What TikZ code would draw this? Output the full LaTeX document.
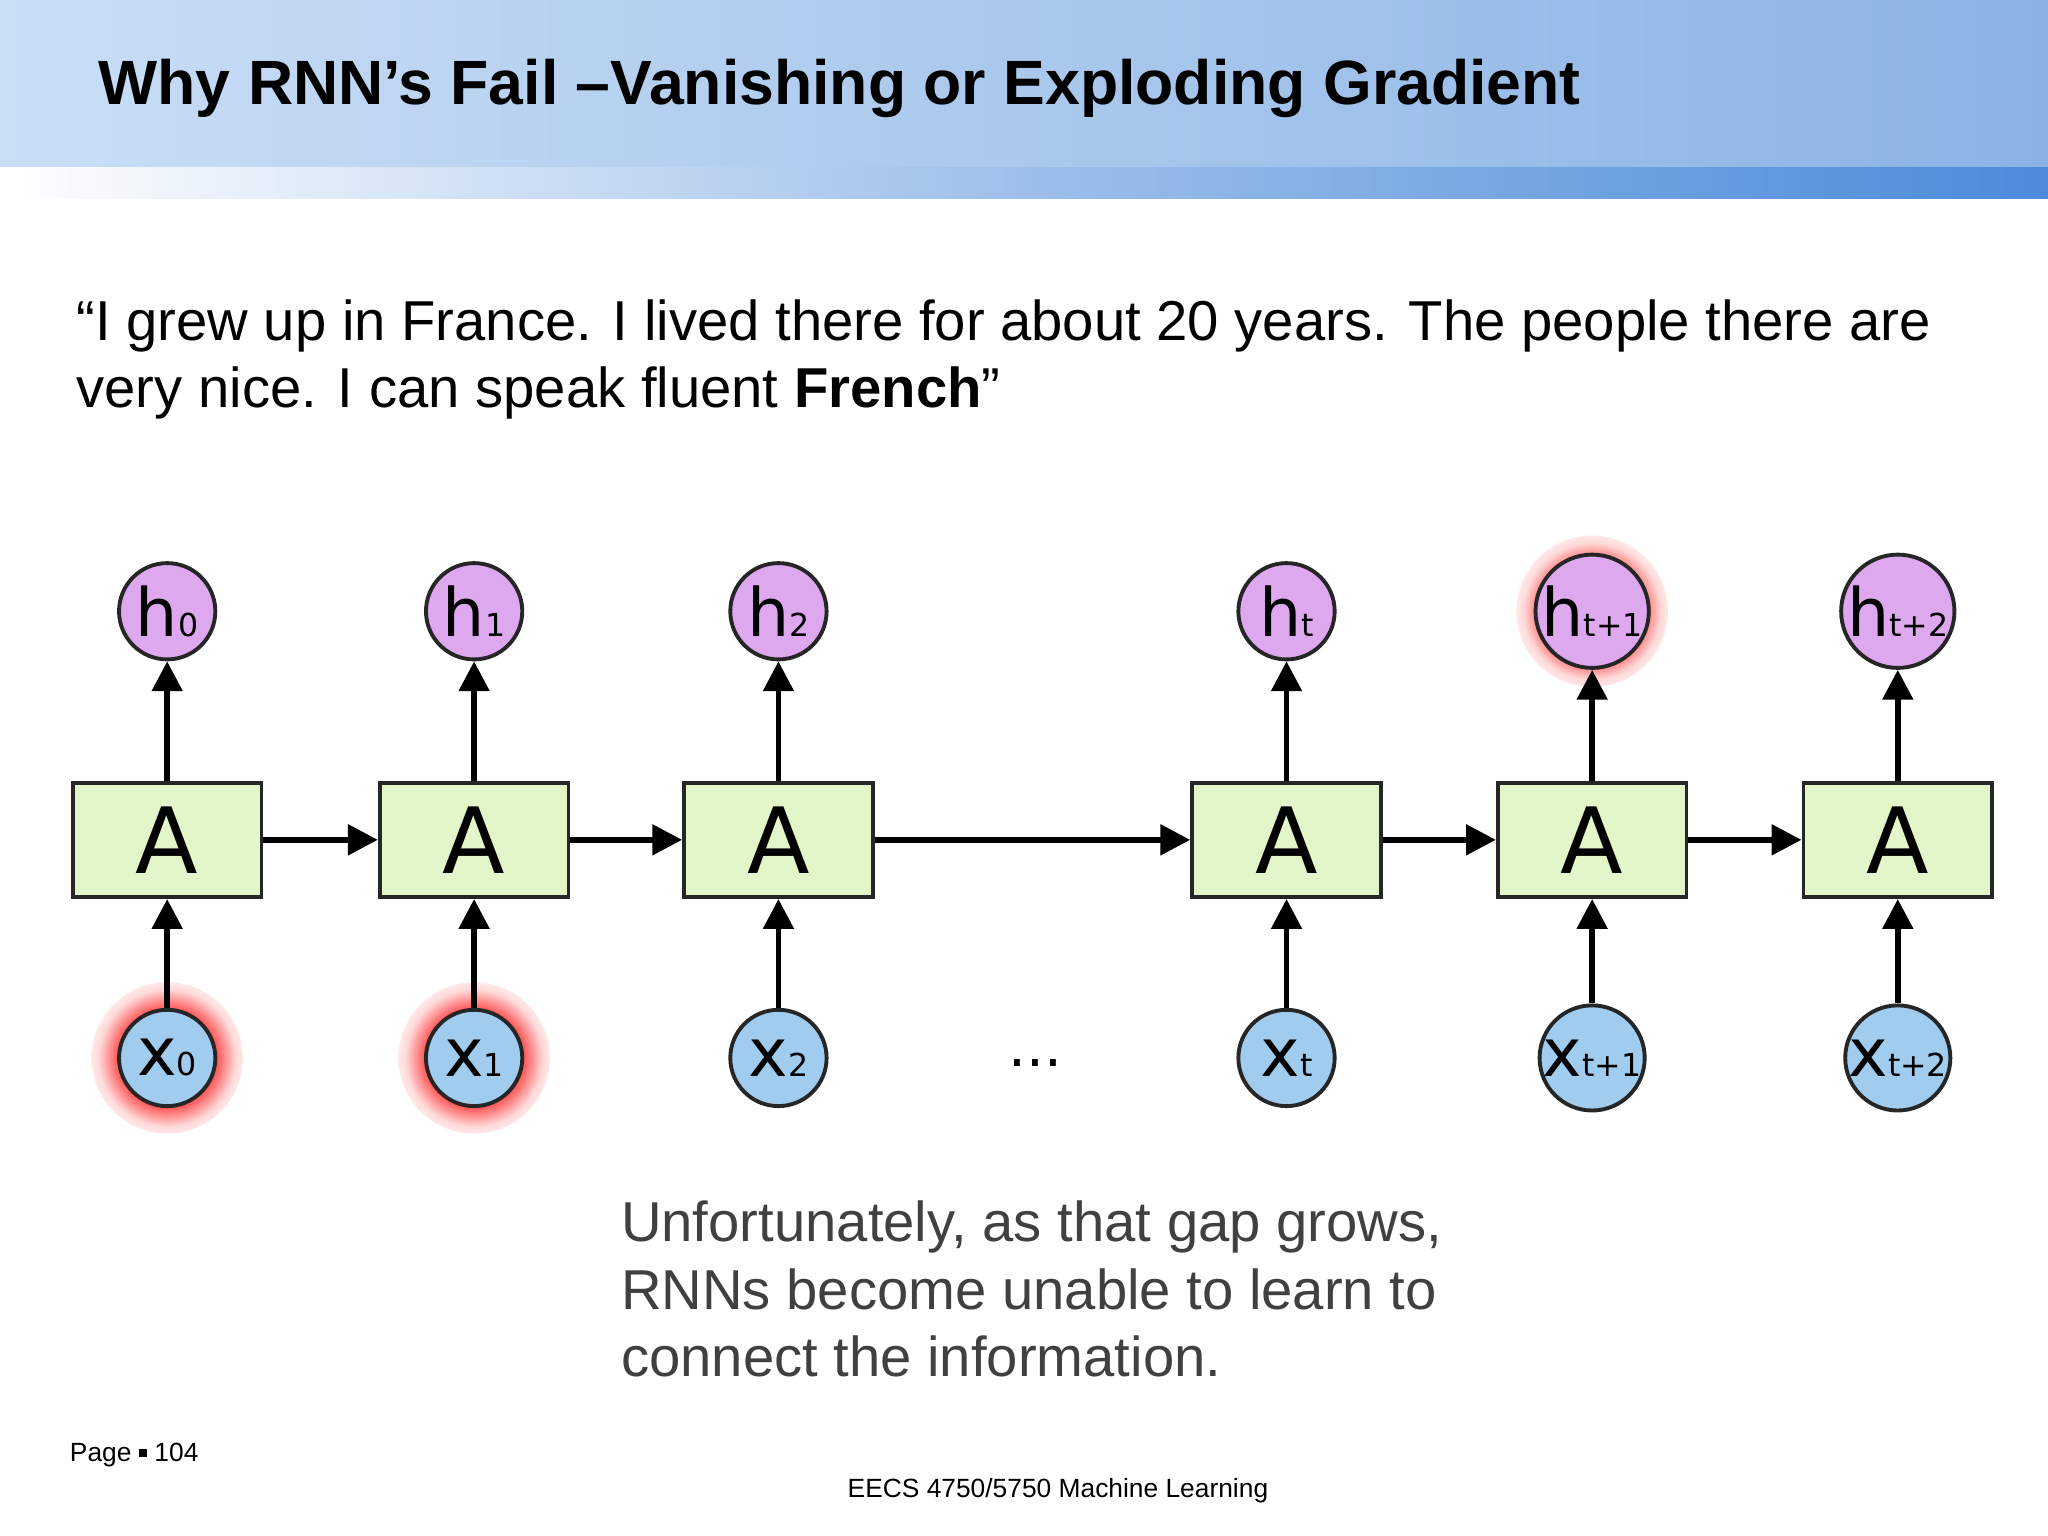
\documentclass[tikz,border=0pt]{standalone}
\usepackage{fontspec}
\setmainfont{Liberation Sans}
\newfontfamily\djvfont{DejaVu Sans}
\usetikzlibrary{arrows.meta}
\definecolor{boxg}{HTML}{E2F6C9}
\definecolor{hc}{HTML}{DDA8EE}
\definecolor{xc}{HTML}{A0CCF0}
\definecolor{hdrL}{HTML}{CADEF6}
\definecolor{hdrR}{HTML}{8AB3E4}
\definecolor{strip}{HTML}{4C8BD9}
\pgfdeclareradialshading{redglow}{\pgfpoint{0cm}{0cm}}{color(0cm)=(red);color(0.45cm)=(red);color(0.6cm)=(red!60);color(0.8cm)=(red!15);color(1cm)=(white)}
\begin{document}
\begin{tikzpicture}[x=0.013061cm,y=-0.013061cm,
 abox/.style={draw=black!85,line width=1.1pt,fill=boxg,minimum width=145*0.3703pt,minimum height=88*0.3703pt,font=\djvfont\fontsize{26}{26}\selectfont,inner sep=0pt},
 hnode/.style={circle,draw=black!85,line width=1.1pt,fill=hc,minimum size=74*0.3703pt,inner sep=0pt,font=\djvfont\fontsize{19}{19}\selectfont},
 xnode/.style={circle,draw=black!85,line width=1.1pt,fill=xc,minimum size=74*0.3703pt,inner sep=0pt,font=\djvfont\fontsize{19}{19}\selectfont},
 arr/.style={line width=1.6pt,-{Triangle[length=8.5pt,width=8.5pt]}},
 glow/.style={shading=redglow}]
\useasboundingbox (0,0) rectangle (1568,1176);
\fill[white] (0,0) rectangle (1568,1176);
\shade[left color=hdrL,right color=hdrR] (0,0) rectangle (1568,128);
\shade[left color=white,right color=strip,middle color=strip!55] (0,128) rectangle (1568,152);
\node[anchor=west,font=\bfseries\fontsize{17.8}{20}\selectfont] (title) at (66,68) {Why RNN’s Fail –Vanishing or Exploding Gradient};
\node[anchor=north west,align=left,font=\fontsize{16}{19}\selectfont,inner sep=0pt] (quote) at (58,229) {“I grew up in France. I lived there for about 20 years. The people there are\\very nice. I can speak fluent \textbf{French}”};
% glows
\shade[glow] (1219,468) circle (58);
\shade[glow] (128,810) circle (58);
\shade[glow] (363,810) circle (58);
\foreach \i/\xx/\s in {0/128/0,1/363/1,2/596/2,3/985/t,4/1219/t+1,5/1453/t+2}{
  \node[abox] (a\i) at (\xx,643) {A};
  \node[hnode] (h\i) at (\xx,468) {h{\fontsize{9}{9}\selectfont\s}};
  \node[xnode] (x\i) at (\xx,810) {x{\fontsize{9}{9}\selectfont\s}};
  \draw[arr] (x\i) -- (a\i);
  \draw[arr] (a\i) -- (h\i);
}
\foreach \i/\j in {0/1,1/2,2/3,3/4,4/5}{\draw[arr] (a\i) -- (a\j);}
\node[font=\djvfont\fontsize{16}{16}\selectfont] (dots) at (793,814) {...};
\node[anchor=north west,align=left,text=black!75,font=\fontsize{16}{19.2}\selectfont,inner sep=0pt] (bottom) at (475,919) {Unfortunately, as that gap grows,\\RNNs become unable to learn to\\connect the information.};
\node[anchor=west,font=\fontsize{7.5}{9}\selectfont,inner sep=0pt] (page) at (53,1114) {Page \raisebox{0.3ex}{\scalebox{0.6}{\rule{1ex}{1ex}}} 104};
\node[font=\fontsize{7.5}{9}\selectfont,inner sep=0pt] (eecs) at (810,1141) {EECS 4750/5750 Machine Learning};
\end{tikzpicture}
\end{document}
